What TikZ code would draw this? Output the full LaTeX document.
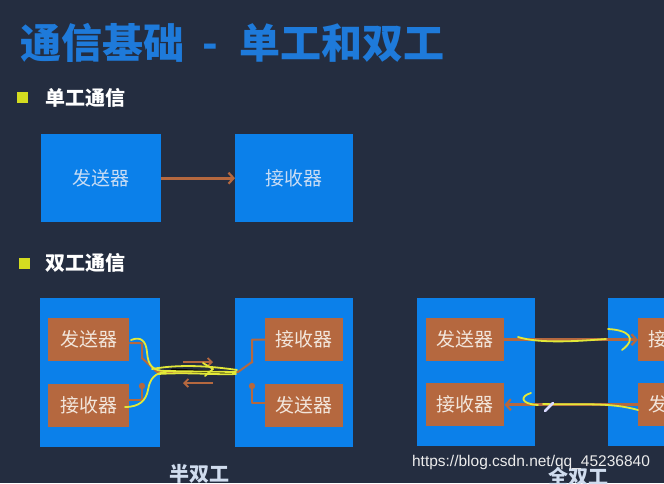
\documentclass[tikz,border=0pt]{standalone}
\usepackage{fontspec}
\setmainfont{Noto Sans CJK SC}
\newfontfamily\wmfont{Liberation Sans}
\usetikzlibrary{arrows.meta}
\definecolor{bgc}{HTML}{242D40}
\definecolor{titlec}{HTML}{1E7ADA}
\definecolor{boxblue}{HTML}{0B80EA}
\definecolor{bluetext}{HTML}{C8DCF4}
\definecolor{brownc}{HTML}{B5683F}
\definecolor{browntext}{HTML}{F2E6DC}
\definecolor{hl}{HTML}{E2E838}
\definecolor{bulletc}{HTML}{D4DC20}
\definecolor{labelc}{HTML}{D0DCEE}
\tikzset{
  bigbox/.style={fill=boxblue, anchor=north west, inner sep=0pt, text=bluetext,
    minimum height=88pt, font=\fontsize{19}{19}\selectfont},
  outerbox/.style={fill=boxblue, anchor=north west, inner sep=0pt, minimum height=149pt},
  innerbox/.style={fill=brownc, anchor=north west, inner sep=0pt, text=browntext,
    minimum height=43pt, font=\fontsize{19}{19}\selectfont},
  bullet/.style={fill=bulletc, minimum width=11pt, minimum height=11pt, inner sep=0pt},
  heading/.style={anchor=west, text=white, inner sep=0pt, font=\bfseries\fontsize{20}{20}\selectfont},
  brarrow/.style={draw=brownc, line width=2.6pt, -{Straight Barb[length=5pt,width=11pt,line width=2.2pt]}},
  wire/.style={draw=brownc, line width=2pt, line join=round},
  hand/.style={draw=hl, line width=1.8pt, line cap=round, line join=round},
  caption/.style={text=labelc, inner sep=0pt, font=\bfseries\fontsize{20}{20}\selectfont}
}
\begin{document}
\begin{tikzpicture}[x=1pt,y=-1pt]
\fill[bgc] (0,0) rectangle (664,483);
\clip (0,0) rectangle (664,483);
% title
\node[anchor=west, text=titlec, inner sep=0pt, font=\bfseries\fontsize{41}{41}\selectfont] (title) at (20,43)
  {通信基础\hspace{18pt}-\hspace{22pt}单工和双工};
% single
\node[bullet] (b1) at (22,97) {};
\node[heading] (h1) at (45,98) {单工通信};
\node[bigbox, minimum width=120pt] (s1) at (41,134) {发送器};
\node[bigbox, minimum width=118pt] (r1) at (235,134) {接收器};
\draw[brarrow] (s1) -- (r1);
% duplex
\node[bullet] (b2) at (24,263) {};
\node[heading] (h2) at (45,263) {双工通信};
% half duplex
\node[outerbox, minimum width=120pt] (hL) at (40,298) {};
\node[outerbox, minimum width=118pt] (hR) at (235,298) {};
\node[innerbox, minimum width=81pt] (hS) at (48,318) {发送器};
\node[innerbox, minimum width=81pt] (hRx) at (48,384) {接收器};
\node[innerbox, minimum width=78pt] (hRx2) at (265,318) {接收器};
\node[innerbox, minimum width=78pt] (hS2) at (265,384) {发送器};
\coordinate (p1) at (142,358);
\coordinate (hj1) at (157,372);
\coordinate (hj2) at (238,372);
\coordinate (p2) at (252,362);
\coordinate (d1) at (142,386);
\coordinate (d2) at (252,386);
\draw[wire] ([yshift=-3.5pt]hS.east) -| (p1) -- (hj1) -- (hj2) -- (p2) |- (hRx2.west);
\draw[wire] ([yshift=5.5pt]hRx.east) -| (d1);
\draw[wire] ([yshift=2.5pt]hS2.west) -| (d2);
\fill[brownc] (d1) circle (3.2) (d2) circle (3.2) (p1) circle (1.5) (p2) circle (1.5);
\coordinate (a1s) at (183,362); \coordinate (a1e) at (213,362);
\coordinate (a2s) at (213,383); \coordinate (a2e) at (183,383);
\draw[brownc, line width=2.2pt, -{Straight Barb[length=4pt,width=8pt,line width=1.8pt]}] (a1s) -- (a1e);
\draw[brownc, line width=2.2pt, -{Straight Barb[length=4pt,width=8pt,line width=1.8pt]}] (a2s) -- (a2e);
% hand-drawn highlights (half duplex)
\draw[black, line width=3pt, line cap=round] (172,370) -- (234,373);
\draw[hand] (131,340) .. controls (141,336) and (146,341) .. (147,352)
  .. controls (148,366) and (153,371) .. (166,371) -- (236,372);
\draw[hand] (152,369) .. controls (180,364) and (210,366) .. (237,370);
\draw[hand] (158,374) .. controls (190,372) and (215,375) .. (236,374);
\draw[hand] (203,363) -- (213,369) -- (205,376);
\draw[hand] (125,407) .. controls (140,407) and (146,400) .. (148,390)
  .. controls (150,378) and (155,373) .. (166,372);
\node[caption] (hcap) at (199,474) {半双工};
% full duplex
\node[outerbox, minimum width=118pt, minimum height=148pt] (fL) at (417,298) {};
\node[outerbox, minimum width=80pt, minimum height=148pt] (fR) at (608,298) {};
\node[innerbox, minimum width=78pt] (fS) at (426,318) {发送器};
\node[innerbox, minimum width=78pt] (fRx) at (426,383) {接收器};
\node[innerbox, minimum width=78pt] (fRx2) at (638,318) {接收器};
\node[innerbox, minimum width=78pt] (fS2) at (638,383) {发送器};
\draw[brarrow] (fS.east) -- (fRx2.west);
\draw[brarrow] (fS2.west) -- (fRx.east);
\draw[hand] (518,337) .. controls (540,344) and (580,341) .. (606,339);
\draw[hand] (608,329) .. controls (628,330) and (638,338) .. (622,350);
\draw[hand] (638,410) .. controls (610,402) and (580,405) .. (543,404);
\draw[hand] (531,393) .. controls (520,396) and (520,404) .. (538,405);
\draw[white!85!blue, line width=2.5pt, line cap=round] (545,411) -- (553,403);
\node[caption] (fcap) at (578,477) {全双工};
\node[text=white!85!gray, inner sep=0pt, font=\wmfont\fontsize{15.5}{15.5}\selectfont] (wm) at (531,462)
  {https://blog.csdn.net/qq\_45236840};
\end{tikzpicture}
\end{document}
